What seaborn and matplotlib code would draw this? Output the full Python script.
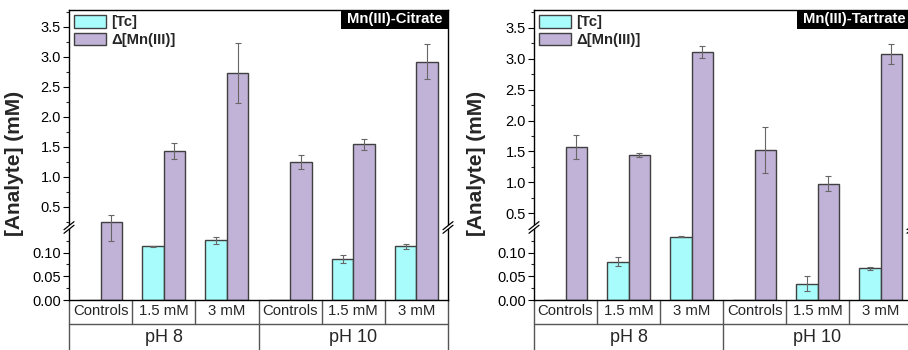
import matplotlib.patches as mpatches
import matplotlib.pyplot as plt
import matplotlib.ticker as ticker
import numpy as np
import pandas as pd
import seaborn as sns

conditions = ["Controls", "1.5 mM", "3 mM"]
ph_groups = ["pH 8", "pH 10"]
species = ["[Tc]", "Δ[Mn(III)]"]

# values, order: pH 8 (Controls, 1.5, 3), pH 10 (Controls, 1.5, 3)
citrate_tc = [0.0, 0.113, 0.126, 0.0, 0.087, 0.113]
citrate_tc_err = [0.0, 0.001, 0.007, 0.0, 0.009, 0.005]
citrate_mn = [0.24, 1.43, 2.73, 1.245, 1.54, 2.92]
citrate_mn_err = [0.115, 0.135, 0.50, 0.115, 0.09, 0.29]

tartrate_tc = [0.0, 0.081, 0.133, 0.0, 0.034, 0.067]
tartrate_tc_err = [0.0, 0.009, 0.001, 0.0, 0.016, 0.003]
tartrate_mn = [1.57, 1.44, 3.11, 1.53, 0.98, 3.08]
tartrate_mn_err = [0.19, 0.035, 0.10, 0.37, 0.12, 0.16]

COLORS = {"[Tc]": "#a8fcfc", "Δ[Mn(III)]": "#c1b2d8"}
EDGE = "#404040"
FS = 10.7

sns.set_style("ticks")
plt.rcParams["font.family"] = ["Liberation Sans", "DejaVu Sans"]

LO_TOP = 0.15
K_LO = 474.0
GAP = 2.9


def broken_scale(up_bot, k_up):
    k_gap = GAP / (up_bot - LO_TOP)
    y1 = LO_TOP * K_LO
    y2 = y1 + GAP

    def fwd(v):
        v = np.asarray(v, dtype=float)
        return np.where(
            v <= LO_TOP,
            v * K_LO,
            np.where(v <= up_bot, y1 + (v - LO_TOP) * k_gap, y2 + (v - up_bot) * k_up),
        )

    def inv(u):
        u = np.asarray(u, dtype=float)
        return np.where(
            u <= y1,
            u / K_LO,
            np.where(u <= y2, LO_TOP + (u - y1) / k_gap, up_bot + (u - y2) / k_up),
        )

    return fwd, inv


def tick_fmt(value, pos):
    return f"{value:.2f}" if value < 0.2 else f"{value:.1f}"


def break_marks(ax, frac):
    w, h = ax.bbox.width, ax.bbox.height
    dx, dy, off = 5.0 / w, 4.0 / h, 1.8 / h
    for x in (0.0, 1.0):
        ax.fill(
            [x - dx, x + dx, x + dx, x - dx],
            [frac - dy - off, frac + dy - off, frac + dy + off, frac - dy + off],
            color="white", transform=ax.transAxes, clip_on=False, zorder=5, lw=0,
        )
        for o in (-off, off):
            ax.plot(
                [x - dx, x + dx], [frac - dy + o, frac + dy + o],
                color="black", lw=0.9, transform=ax.transAxes,
                clip_on=False, zorder=6,
            )


def title_box(fig, ax, title):
    w, h = ax.bbox.width, ax.bbox.height
    padx, pady = 6.0, 2.5
    t = ax.text(1 - padx / w, 1 - pady / h, title, transform=ax.transAxes,
                ha="right", va="top", color="white", fontweight="bold",
                fontsize=FS, zorder=8)
    bb = t.get_window_extent(fig.canvas.get_renderer())
    x0, y0 = ax.transAxes.inverted().transform((bb.x0 - padx, bb.y0 - pady))
    ax.add_patch(mpatches.Rectangle((x0, y0), 1 - x0, 1 - y0, transform=ax.transAxes,
                                    facecolor="black", edgecolor="none", zorder=7,
                                    clip_on=False))


def draw_panel(fig, ax, tc, tc_err, mn, mn_err, title, up_bot, k_up, top, label_x):
    keys = [f"{ph} {c}" for ph in ph_groups for c in conditions]
    df = pd.DataFrame(
        {
            "group": keys * 2,
            "species": [species[0]] * 6 + [species[1]] * 6,
            "value": tc + mn,
        }
    )
    sns.barplot(
        data=df, x="group", y="value", hue="species", order=keys,
        hue_order=species, palette=COLORS, width=0.68, saturation=1,
        edgecolor=EDGE, linewidth=1.0, errorbar=None, ax=ax,
    )
    bars = list(ax.containers)
    for cont, vals, errs in zip(bars, [tc, mn], [tc_err, mn_err]):
        xs = [b.get_x() + b.get_width() / 2 for b in cont]
        keep = [i for i, e in enumerate(errs) if e > 0]
        ax.errorbar(
            [xs[i] for i in keep], [vals[i] for i in keep],
            yerr=[errs[i] for i in keep], fmt="none", ecolor="#666666",
            elinewidth=0.8, capsize=2.5, capthick=0.8, zorder=4,
        )

    fwd, inv = broken_scale(up_bot, k_up)
    ax.set_yscale("function", functions=(fwd, inv))
    ax.set_ylim(0, top)
    ax.set_xlim(-0.5, 5.5)

    major = [0.0, 0.05, 0.10] + [0.5 * i for i in range(1, 8)]
    minor = [0.025, 0.075, 0.125] + [m for m in np.arange(0.25, top, 0.5) if m > up_bot]
    ax.yaxis.set_major_locator(ticker.FixedLocator(major))
    ax.yaxis.set_minor_locator(ticker.FixedLocator(minor))
    ax.yaxis.set_major_formatter(ticker.FuncFormatter(tick_fmt))
    ax.tick_params(axis="y", which="major", direction="out", length=4.3,
                   width=0.8, pad=1.6, labelsize=10.5, colors="black")
    ax.tick_params(axis="y", which="minor", direction="out", length=2.3, width=0.8)
    ax.tick_params(axis="x", length=0, pad=2.6, labelsize=FS)
    ax.set_xticks(range(6))
    ax.set_xticklabels(conditions * 2)
    for s in ax.spines.values():
        s.set_color("black")
        s.set_linewidth(1.0)

    ax.set_xlabel("")
    ax.set_ylabel("[Analyte] (mM)", fontsize=15, fontweight="bold")
    ax.yaxis.set_label_coords(label_x, 0.47)

    # category table under the axis
    tr = ax.get_xaxis_transform()
    row = -24.0 / ax.bbox.height
    for xb in np.arange(-0.5, 6.0, 1.0):
        ax.plot([xb, xb], [0, row], color="#555555", lw=1.0, transform=tr, clip_on=False)
    ax.plot([-0.5, 5.5], [row, row], color="#555555", lw=1.0, transform=tr, clip_on=False)
    for xb in (-0.5, 2.5, 5.5):
        ax.plot([xb, xb], [row, -0.4], color="#555555", lw=1.0, transform=tr, clip_on=False)
    for i, ph in enumerate(ph_groups):
        ax.text(1 + 3 * i, -37.5 / ax.bbox.height, ph, transform=tr,
                ha="center", va="center", fontsize=13)

    handles, labels = ax.get_legend_handles_labels()
    ax.legend(
        handles, labels, loc="upper left", frameon=False,
        prop={"weight": "bold", "size": FS}, handlelength=2.2,
        handleheight=0.95, labelspacing=0.22, handletextpad=0.3,
        borderaxespad=0.32, borderpad=0.0,
    )
    title_box(fig, ax, title)
    break_marks(ax, (LO_TOP * K_LO + GAP / 2) / float(fwd(top)))


fig = plt.figure(figsize=(9.08, 3.5), dpi=100)
ax1 = fig.add_axes([69 / 908, 50 / 350, 379 / 908, 290 / 350])
ax2 = fig.add_axes([534 / 908, 50 / 350, 378 / 908, 290 / 350])

draw_panel(fig, ax1, citrate_tc, citrate_tc_err, citrate_mn, citrate_mn_err,
           "Mn(III)-Citrate", up_bot=0.178, k_up=60.0, top=3.78, label_x=-0.119)
draw_panel(fig, ax2, tartrate_tc, tartrate_tc_err, tartrate_mn, tartrate_mn_err,
           "Mn(III)-Tartrate", up_bot=0.294, k_up=61.8, top=3.79, label_x=-0.127)

fig.savefig("out.png", dpi=100)
